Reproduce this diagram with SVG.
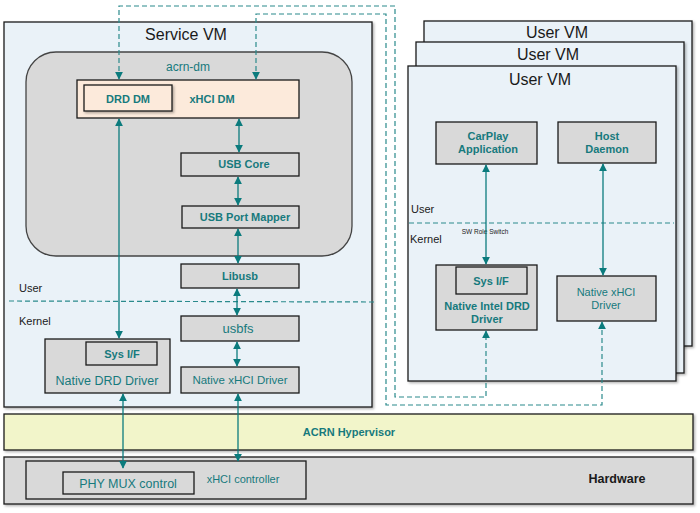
<svg xmlns="http://www.w3.org/2000/svg" width="700" height="513" viewBox="0 0 700 513">
<style>
.vm{fill:#EAF2F8;stroke:#1a1a1a;stroke-width:1.3}
.box{fill:#D9D9D9;stroke:#1a1a1a;stroke-width:1.3}
.peach{fill:#FCEADB;stroke:#1a1a1a;stroke-width:1.3}
.t{font-family:"Liberation Sans",Arial,sans-serif;fill:#177A7D;text-anchor:middle}
.b{font-weight:bold}
.k{font-family:"Liberation Sans",Arial,sans-serif;fill:#1a1a1a}
.ln{stroke:#0B7B7D;stroke-width:1.3;fill:none}
.dl{stroke:#2A8A8C;stroke-width:1.2;fill:none;stroke-dasharray:5,3}
</style>
<defs>
<marker id="ah" viewBox="0 0 10 10" refX="9" refY="5" markerWidth="8" markerHeight="8" markerUnits="userSpaceOnUse" orient="auto-start-reverse">
<path d="M0,0 L10,5 L0,10 z" fill="#0B7B7D"/>
</marker>
<filter id="sh" x="-5%" y="-5%" width="115%" height="120%">
<feDropShadow dx="1.5" dy="1.5" stdDeviation="1" flood-color="#000" flood-opacity="0.3"/>
</filter>
</defs>

<g id="user-vm-back">
<rect class="vm" x="424" y="21" width="268" height="325" filter="url(#sh)"/>
<text class="k" x="557" y="38" font-size="16" text-anchor="middle">User VM</text>
</g>
<g id="user-vm-mid">
<rect class="vm" x="416" y="42" width="268" height="331" filter="url(#sh)"/>
<text class="k" x="548" y="60" font-size="16" text-anchor="middle">User VM</text>
</g>
<g id="user-vm">
<rect class="vm" x="408" y="66" width="268" height="315" filter="url(#sh)"/>
<text class="k" x="540" y="85" font-size="16" text-anchor="middle">User VM</text>
<text class="k" x="411" y="213" font-size="11">User</text>
<text class="k" x="410" y="243" font-size="11">Kernel</text>
<line class="dl" x1="409" y1="223" x2="674" y2="223"/>
<text class="k" x="485" y="234" font-size="6.5" text-anchor="middle" fill="#333">SW Role Switch</text>
</g>

<g id="service-vm">
<rect class="vm" x="4" y="22" width="368" height="385" filter="url(#sh)"/>
<text class="k" x="186" y="40" font-size="16" text-anchor="middle">Service VM</text>
<text class="k" x="19" y="292" font-size="11">User</text>
<text class="k" x="19" y="325" font-size="11">Kernel</text>
<line class="dl" x1="9" y1="301" x2="375" y2="302"/>
</g>

<g id="acrn-dm">
<rect x="26" y="52" width="326" height="204" rx="30" ry="30" fill="#D9D9D9" stroke="#444" stroke-width="1.3"/>
<text class="t" x="188" y="71" font-size="12">acrn-dm</text>
</g>

<g id="xhci-dm">
<rect class="peach" x="77" y="80" width="222" height="38"/>
<text class="t b" x="212" y="103" font-size="11">xHCI DM</text>
</g>
<g id="drd-dm">
<rect class="peach" x="84" y="85" width="88" height="26" filter="url(#sh)"/>
<text class="t b" x="128" y="103" font-size="11">DRD DM</text>
</g>
<g id="usb-core">
<rect class="box" x="181" y="153" width="118" height="23"/>
<text class="t b" x="244" y="168" font-size="11">USB Core</text>
</g>
<g id="usb-port-mapper">
<rect class="box" x="182" y="206" width="117" height="22"/>
<text class="t b" x="245" y="221" font-size="11">USB Port Mapper</text>
</g>
<g id="libusb">
<rect class="box" x="181" y="264" width="118" height="24"/>
<text class="t b" x="240" y="280" font-size="11">Libusb</text>
</g>
<g id="usbfs">
<rect class="box" x="181" y="316" width="118" height="25"/>
<text class="t" x="238" y="333" font-size="13">usbfs</text>
</g>
<g id="native-xhci-driver">
<rect class="box" x="181" y="367" width="118" height="26"/>
<text class="t" x="240" y="384" font-size="11.5">Native xHCI Driver</text>
</g>
<g id="native-drd-driver">
<rect class="box" x="45" y="339" width="125" height="54"/>
<text class="t" x="107" y="385" font-size="12.5">Native DRD Driver</text>
</g>
<g id="sys-if">
<rect class="box" x="86" y="342" width="71" height="23"/>
<text class="t b" x="122" y="358" font-size="11">Sys I/F</text>
</g>

<g id="acrn-hypervisor">
<rect x="4" y="414" width="689" height="36" fill="#F2F5CA" stroke="#1a1a1a" stroke-width="1.3" filter="url(#sh)"/>
<text class="t b" x="349" y="436" font-size="11">ACRN Hypervisor</text>
</g>
<g id="hardware">
<rect x="4" y="457" width="689" height="47" fill="#D9D9D9" stroke="#1a1a1a" stroke-width="1.3" filter="url(#sh)"/>
<text class="k" x="617" y="483" font-size="12.5" font-weight="bold" text-anchor="middle">Hardware</text>
</g>
<g id="xhci-controller">
<rect class="box" x="26" y="461" width="280" height="38"/>
<text class="t" x="243" y="483" font-size="11">xHCI controller</text>
</g>
<g id="phy-mux-control">
<rect class="box" x="63" y="472" width="131" height="22"/>
<text class="t" x="128" y="488" font-size="12.5">PHY MUX control</text>
</g>

<g id="carplay-application">
<rect class="box" x="436" y="122" width="101" height="42"/>
<text class="t b" x="488" y="140" font-size="11">CarPlay</text>
<text class="t b" x="488" y="153" font-size="11">Application</text>
</g>
<g id="host-daemon">
<rect class="box" x="558" y="122" width="98" height="41"/>
<text class="t b" x="607" y="140" font-size="11">Host</text>
<text class="t b" x="607" y="153" font-size="11">Daemon</text>
</g>
<g id="native-intel-drd-driver">
<rect class="box" x="436" y="265" width="101" height="65"/>
<text class="t b" x="487" y="310" font-size="11">Native Intel DRD</text>
<text class="t b" x="487" y="323" font-size="11">Driver</text>
</g>
<g id="uvm-sys-if">
<rect class="box" x="456" y="267" width="71" height="27"/>
<text class="t b" x="491" y="285" font-size="11">Sys I/F</text>
</g>
<g id="uvm-native-xhci-driver">
<rect class="box" x="557" y="276" width="99" height="45"/>
<text class="t" x="606" y="296" font-size="11">Native xHCI</text>
<text class="t" x="606" y="309" font-size="11">Driver</text>
</g>

<g id="connectors">
<line class="ln" x1="239" y1="119" x2="239" y2="152" marker-start="url(#ah)" marker-end="url(#ah)"/>
<line class="ln" x1="238" y1="177" x2="238" y2="205" marker-start="url(#ah)" marker-end="url(#ah)"/>
<line class="ln" x1="238" y1="229" x2="238" y2="263" marker-start="url(#ah)" marker-end="url(#ah)"/>
<line class="ln" x1="237" y1="289" x2="237" y2="315" marker-start="url(#ah)" marker-end="url(#ah)"/>
<line class="ln" x1="237" y1="342" x2="237" y2="366" marker-start="url(#ah)" marker-end="url(#ah)"/>
<line class="ln" x1="238" y1="394" x2="238" y2="461" marker-start="url(#ah)" marker-end="url(#ah)"/>
<line class="ln" x1="119" y1="119" x2="119" y2="338" marker-start="url(#ah)" marker-end="url(#ah)"/>
<line class="ln" x1="123" y1="394" x2="123" y2="468" marker-start="url(#ah)" marker-end="url(#ah)"/>
<line class="ln" x1="486" y1="165" x2="486" y2="264" marker-start="url(#ah)" marker-end="url(#ah)"/>
<line class="ln" x1="603" y1="164" x2="603" y2="275" marker-start="url(#ah)" marker-end="url(#ah)"/>
<polyline class="dl" points="119,79 119,6 395,6 395,397 486,397 486,331" marker-start="url(#ah)" marker-end="url(#ah)"/>
<polyline class="dl" points="256,79 256,14 386,14 386,405 602,405 602,322" marker-start="url(#ah)" marker-end="url(#ah)"/>
</g>
</svg>
